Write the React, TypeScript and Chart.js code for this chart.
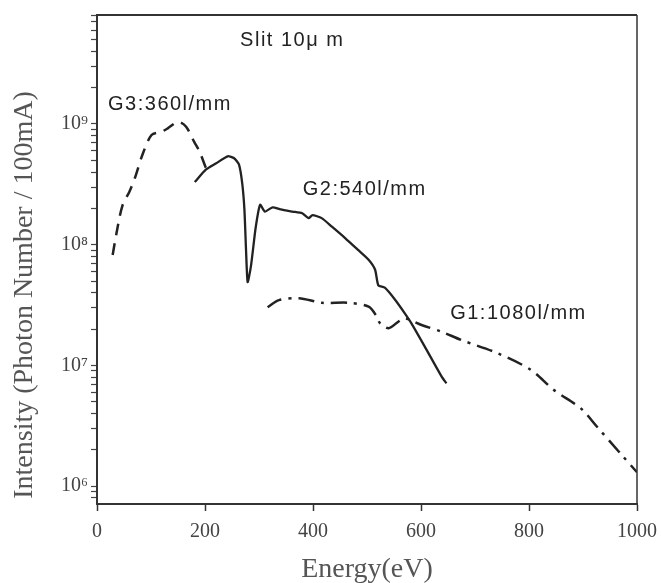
import React, { useEffect, useRef } from "react";
import { Chart, registerables } from "chart.js";

Chart.register(...registerables);

const g3Energy = [29, 36, 47, 60, 70, 85, 101, 119, 131, 150, 165, 180, 190, 202, 208];
const g3Intensity = [8.2e7, 1.24e8, 2.1e8, 2.75e8, 3.55e8, 5.7e8, 8.1e8, 8.6e8, 9.2e8, 1.04e9, 9.5e8, 7.1e8, 5.9e8, 4.3e8, 3.9e8];

const g2Energy = [181, 202, 220, 242, 254, 263, 269, 273, 276, 279, 285, 294, 302, 311, 325, 340, 362, 380, 392, 399, 416, 435, 460, 484, 503, 515, 521, 533, 552, 570, 582, 607, 638, 647];
const g2Intensity = [3.3e8, 4.2e8, 4.7e8, 5.4e8, 5.2e8, 4.6e8, 3.2e8, 1.95e8, 9e7, 4.9e7, 6.6e7, 1.4e8, 2.14e8, 1.88e8, 2.04e8, 1.96e8, 1.88e8, 1.82e8, 1.66e8, 1.76e8, 1.66e8, 1.41e8, 1.13e8, 9e7, 7.5e7, 6.2e7, 4.6e7, 4.4e7, 3.5e7, 2.7e7, 2.24e7, 1.43e7, 8.1e6, 7.1e6];

const g1Energy = [316, 337, 374, 417, 466, 503, 518, 524, 540, 558, 570, 601, 638, 675, 742, 803, 846, 896, 926, 969, 1000];
const g1Intensity = [3.03e7, 3.47e7, 3.6e7, 3.3e7, 3.3e7, 3.06e7, 2.54e7, 2.24e7, 2.03e7, 2.3e7, 2.45e7, 2.16e7, 1.9e7, 1.62e7, 1.26e7, 9.2e6, 6.25e6, 4.4e6, 3.1e6, 1.87e6, 1.3e6];

const xTicks = [0, 200, 400, 600, 800, 1000];
const yDecades = [1e6, 1e7, 1e8, 1e9];
const yDecadeLabels = ["10\u2076", "10\u2077", "10\u2078", "10\u2079"];

const xTitle = "Energy(eV)";
const yTitle = "Intensity (Photon Number / 100mA)";

const annotations = [
  { text: "Slit 10\u03bc m", x: 265, y: 4.96e9 },
  { text: "G3:360l/mm", x: 20.4, y: 1.44e9 },
  { text: "G2:540l/mm", x: 381, y: 2.89e8 },
  { text: "G1:1080l/mm", x: 654, y: 2.67e7 },
];

const toPoints = (xs: number[], ys: number[]) => xs.map((x, i) => ({ x, y: ys[i] }));

const SERIF = "'Liberation Serif', 'Times New Roman', serif";
const SANS = "'Liberation Sans', Arial, sans-serif";

export default function App() {
  const ref = useRef<HTMLCanvasElement | null>(null);

  useEffect(() => {
    document.body.style.margin = "0";
    document.body.style.overflow = "hidden";
    if (!ref.current) return;
    const lineColor = "#222";
    const framePlugin = {
      id: "frame",
      afterDraw(chart: any) {
        const { ctx, chartArea } = chart;
        ctx.save();
        ctx.strokeStyle = "#333";
        ctx.lineWidth = 2;
        ctx.beginPath();
        ctx.moveTo(chartArea.left, chartArea.top);
        ctx.lineTo(chartArea.right, chartArea.top);
        ctx.stroke();
        ctx.lineWidth = 1.5;
        ctx.beginPath();
        ctx.moveTo(chartArea.right, chartArea.top);
        ctx.lineTo(chartArea.right, chartArea.bottom);
        ctx.stroke();

        const xs = chart.scales.x;
        const ys = chart.scales.y;
        ctx.fillStyle = "#222";
        ctx.font = `20px ${SANS}`;
        (ctx as any).letterSpacing = "1.5px";
        ctx.textBaseline = "middle";
        ctx.textAlign = "left";
        annotations.forEach((a) => {
          ctx.fillText(a.text, xs.getPixelForValue(a.x), ys.getPixelForValue(a.y));
        });
        (ctx as any).letterSpacing = "0px";

        ctx.fillStyle = "#555";
        ctx.font = `28px ${SERIF}`;
        ctx.textAlign = "center";
        ctx.textBaseline = "alphabetic";
        ctx.fillText(xTitle, (chartArea.left + chartArea.right) / 2, 577);

        ctx.translate(32, 295);
        ctx.rotate(-Math.PI / 2);
        ctx.fillText(yTitle, 0, 0);
        ctx.restore();
      },
    };

    const chart = new Chart(ref.current, {
      type: "line",
      data: {
        datasets: [
          {
            label: "G3:360l/mm",
            data: toPoints(g3Energy, g3Intensity),
            borderColor: lineColor,
            borderWidth: 2.5,
            borderDash: [12, 8],
            pointRadius: 0,
            tension: 0.3,
            fill: false,
          },
          {
            label: "G2:540l/mm",
            data: toPoints(g2Energy, g2Intensity),
            borderColor: lineColor,
            borderWidth: 2.3,
            pointRadius: 0,
            tension: 0.2,
            fill: false,
          },
          {
            label: "G1:1080l/mm",
            data: toPoints(g1Energy, g1Intensity),
            borderColor: lineColor,
            borderWidth: 2.5,
            borderDash: [16, 7, 3, 7],
            pointRadius: 0,
            tension: 0.3,
            fill: false,
          },
        ],
      },
      options: {
        animation: false,
        responsive: true,
        maintainAspectRatio: false,
        layout: { padding: { left: 0, right: 24, top: 10, bottom: 0 } },
        plugins: {
          legend: { display: false },
          tooltip: { enabled: false },
        },
        scales: {
          x: {
            type: "linear",
            min: 0,
            max: 1000,
            afterBuildTicks: (s: any) => {
              s.ticks = xTicks.map((v) => ({ value: v }));
            },
            afterFit: (s: any) => {
              s.height = 79;
              s.paddingLeft = 0;
              s.paddingRight = 0;
            },
            border: { display: true, color: "#333", width: 2 },
            grid: {
              drawOnChartArea: false,
              drawTicks: true,
              tickLength: 7,
              tickColor: "#333",
              tickWidth: 1.5,
            },
            ticks: {
              color: "#444",
              font: { family: SERIF, size: 20 },
              padding: 9,
              maxRotation: 0,
              callback: (v: any) => String(v),
            },
            title: { display: false },
          },
          y: {
            type: "logarithmic",
            min: 7.1e5,
            max: 8e9,
            afterBuildTicks: (s: any) => {
              const t: any[] = [];
              for (let e = 5; e <= 9; e++) {
                for (let m = 1; m <= 9; m++) {
                  const v = m * Math.pow(10, e);
                  if (v >= 7.1e5 && v <= 8e9) t.push({ value: v });
                }
              }
              s.ticks = t;
            },
            afterFit: (s: any) => {
              s.width = 97;
            },
            border: { display: true, color: "#333", width: 2 },
            grid: {
              drawOnChartArea: false,
              drawTicks: true,
              tickLength: 6,
              tickColor: "#444",
              tickWidth: 1.2,
            },
            ticks: {
              autoSkip: false,
              color: "#444",
              font: { family: SERIF, size: 20 },
              padding: 3,
              callback: (v: any) => {
                const idx = yDecades.findIndex((d) => Math.abs(d - v) / d < 1e-6);
                return idx >= 0 ? yDecadeLabels[idx] : "";
              },
            },
            title: { display: false },
          },
        },
      },
      plugins: [framePlugin],
    });
    return () => chart.destroy();
  }, []);

  return (
    <div style={{ width: 661, height: 583, position: "relative", background: "#fff" }}>
      <canvas ref={ref} />
    </div>
  );
}
